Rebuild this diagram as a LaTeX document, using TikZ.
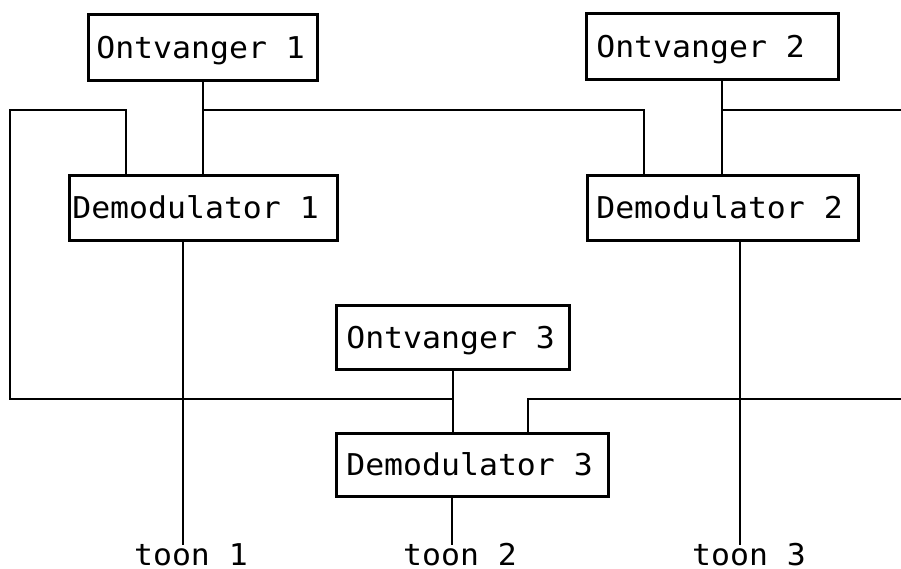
\documentclass[tikz,border=0pt]{standalone}
\usepackage{fontspec}
\newfontfamily\plotfont[FakeStretch=1.05]{DejaVu Sans Mono}
\newcommand{\lefttext}[2]{\makebox[#1][l]{#2}}
\begin{document}
\begin{tikzpicture}[x=1pt,y=-1pt,line width=2.6pt,
  blk/.style={draw,anchor=north west,inner ysep=0pt,
    text height=22pt,text depth=0pt,
    font=\plotfont\fontsize{30}{30}\selectfont},
  lbl/.style={anchor=base,inner sep=0pt,
    font=\plotfont\fontsize{30}{30}\selectfont}]
\useasboundingbox (0,0) rectangle (901,568);
% boxes
\node[blk,minimum height=66pt,inner xsep=8pt] (O1) at (87,13) {\lefttext{213pt}{Ontvanger 1}};
\node[blk,minimum height=65pt,inner xsep=3pt] (D1) at (68,174) {\lefttext{262pt}{Demodulator 1}};
\node[blk,minimum height=66pt,inner xsep=10pt] (O2) at (585,12) {\lefttext{232pt}{Ontvanger 2}};
\node[blk,minimum height=65pt,inner xsep=9pt] (D2) at (586,174) {\lefttext{253pt}{Demodulator 2}};
\node[blk,minimum height=64pt,inner xsep=10pt] (O3) at (335,304) {\lefttext{213pt}{Ontvanger 3}};
\node[blk,minimum height=63pt,inner xsep=10pt] (D3) at (335,432) {\lefttext{252pt}{Demodulator 3}};
% labels
\node[lbl] (t1) at (191,565) {toon 1};
\node[lbl] (t2) at (460,565) {toon 2};
\node[lbl] (t3) at (749,565) {toon 3};
% coordinates
\coordinate (j1) at (202,110);
\coordinate (j2) at (722,110);
\coordinate (lc) at (10,110);
\coordinate (j3) at (452,399);
\coordinate (e1) at (901,110);
\coordinate (e2) at (901,399);
\coordinate (b1) at (183,545);
\coordinate (b2) at (452,545);
\coordinate (b3) at (740,545);
% connectors
\draw (O1.south) -- (O1.south |- D1.north);
\draw (j1) -| ([xshift=58pt]D2.north west);
\draw ([xshift=58pt]D1.north west) |- (lc) |- (j3);
\draw ([xshift=136pt]D2.north west |- O2.south) -- ([xshift=136pt]D2.north west);
\draw (j2) -- (e1);
\draw (O3.south) -- (O3.south |- D3.north);
\draw ([xshift=193pt]D3.north west) |- (e2);
\draw ([xshift=115pt]D1.south west) -- (b1);
\draw ([xshift=117pt]D3.south west) -- (b2);
\draw ([xshift=154pt]D2.south west) -- (b3);
\end{tikzpicture}
\end{document}
